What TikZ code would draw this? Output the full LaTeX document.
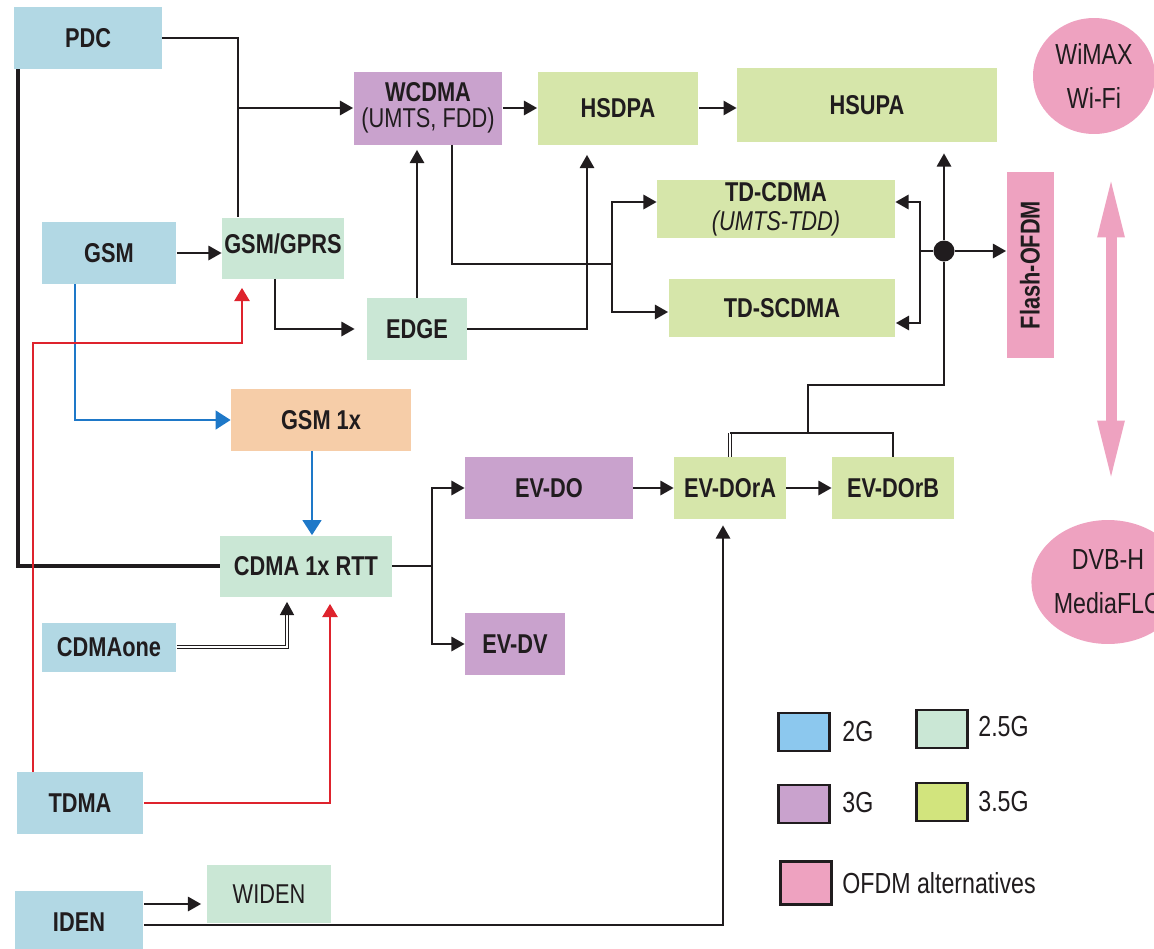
\documentclass[tikz,border=0pt]{standalone}
\usepackage{fontspec}
\setmainfont{Liberation Sans}[FakeStretch=0.8]
\usetikzlibrary{arrows.meta,calc,shapes.geometric}
\definecolor{ink}{RGB}{32,28,30}
\definecolor{blue2g}{RGB}{178,216,228}
\definecolor{mint}{RGB}{202,231,213}
\definecolor{lilac}{RGB}{201,162,205}
\definecolor{lime}{RGB}{214,230,170}
\definecolor{peach}{RGB}{246,205,168}
\definecolor{rose}{RGB}{238,162,192}
\definecolor{linkblue}{RGB}{30,120,200}
\definecolor{linkred}{RGB}{222,35,45}
\definecolor{keyblue}{RGB}{140,200,238}
\definecolor{keylime}{RGB}{210,228,125}
\begin{document}
\begin{tikzpicture}[
  x=0.02cm, y=-0.02cm,
  font=\fontsize{15.5}{16}\selectfont,
  box/.style={inner sep=0pt, align=center, text=ink, font=\fontsize{15.5}{14.5}\selectfont\bfseries},
  gen2/.style={box, fill=blue2g},
  gen25/.style={box, fill=mint},
  gen3/.style={box, fill=lilac},
  gen35/.style={box, fill=lime},
  genx/.style={box, fill=peach},
  ofdmbox/.style={box, fill=rose},
  ofdmcircle/.style={ellipse, fill=rose, inner sep=0pt, align=center, text=ink, font=\fontsize{16.5}{25}\selectfont},
  link/.style={draw=ink, line width=1.5pt},
  arr/.style={link, -{Triangle[length=7.5pt,width=8pt]}},
  dbl/.style={draw=ink, line width=0.7pt, double=white, double distance=1.2pt},
  bluearr/.style={draw=linkblue, line width=1.5pt, -{Triangle[length=8.5pt,width=10.5pt]}},
  redarr/.style={draw=linkred, line width=1.5pt, -{Triangle[length=7.5pt,width=8.5pt]}},
  key/.style={draw=ink, line width=1.2pt, minimum width=1.02cm, minimum height=0.76cm, inner sep=0pt},
  keylab/.style={anchor=west, text=ink, inner sep=0pt, font=\fontsize{16.5}{18}\selectfont}
]
\useasboundingbox (0,0) rectangle (1154,948);
\clip (0,0) rectangle (1154,948);

% 2G systems
\node[gen2, minimum width=2.96cm, minimum height=1.24cm] (PDC) at (88,38) {PDC};
\node[gen2, minimum width=2.70cm, minimum height=1.24cm] (GSM) at (109,253) {GSM};
\node[gen2, minimum width=2.70cm, minimum height=0.98cm] (CDMAone) at (109,647) {CDMAone};
\node[gen2, minimum width=2.54cm, minimum height=1.24cm] (TDMA) at (80,803) {TDMA};
\node[gen2, minimum width=2.58cm, minimum height=1.24cm] (IDEN) at (79,922) {IDEN};

% 2.5G systems
\node[gen25, minimum width=2.44cm, minimum height=1.22cm] (gprs) at (283,248) {\raisebox{5pt}{GSM/GPRS}};
\node[gen25, minimum width=2.00cm, minimum height=1.24cm] (EDGE) at (417,329) {EDGE};
\node[genx, minimum width=3.60cm, minimum height=1.24cm] (GSM1x) at (321,420) {GSM 1x};
\node[gen25, minimum width=3.44cm, minimum height=1.22cm] (CDMA) at (306,566) {CDMA 1x RTT};
\node[gen25, minimum width=2.50cm, minimum height=1.16cm, font=\fontsize{15.5}{14}\selectfont] (WIDEN) at (269,894) {WIDEN};

% 3G and 3.5G systems
\node[gen3, minimum width=2.98cm, minimum height=1.46cm] (WCDMA) at (428,108) {WCDMA\\\mdseries(UMTS, FDD)};
\node[gen35, minimum width=3.22cm, minimum height=1.46cm] (HSDPA) at (618,108) {HSDPA};
\node[gen35, minimum width=5.20cm, minimum height=1.48cm] (HSUPA) at (867,105) {HSUPA};
\node[gen35, minimum width=4.76cm, minimum height=1.16cm] (TDCDMA) at (776,209) {TD-CDMA\\[2pt]\mdseries\itshape(UMTS-TDD)};
\node[gen35, minimum width=4.54cm, minimum height=1.16cm] (TDSCDMA) at (782,308) {TD-SCDMA};
\node[gen3, minimum width=3.36cm, minimum height=1.24cm] (EVDO) at (549,488) {EV-DO};
\node[gen3, minimum width=2.00cm, minimum height=1.24cm] (EVDV) at (515,644) {EV-DV};
\node[gen35, minimum width=2.24cm, minimum height=1.24cm] (EVA) at (730,488) {EV-DOrA};
\node[gen35, minimum width=2.44cm, minimum height=1.24cm] (EVB) at (893,488) {EV-DOrB};

% OFDM alternatives
\node[ofdmbox, minimum width=0.94cm, minimum height=3.72cm] (Flash) at (1030,265) {\rotatebox{90}{Flash-OFDM}};
\node[ofdmcircle, minimum width=2.44cm, minimum height=2.32cm] (wimax) at (1094,76) {WiMAX\\Wi-Fi};
\node[ofdmcircle, minimum width=2.80cm, minimum height=2.48cm] (dvbh) at (1108,582) {DVB-H\\MediaFLO};
\node[circle, fill=ink, minimum size=0.42cm, inner sep=0pt] (hub) at (944,251) {};

% bend points
\coordinate (pdcX) at (238,0);
\coordinate (leftX) at (18,0);
\coordinate (blueX) at (75,0);
\coordinate (blueDown) at (312,0);
\coordinate (edgeX) at (275,0);
\coordinate (hsX) at (587,0);
\coordinate (wcX) at (452,0);
\coordinate (tdX) at (612,264);
\coordinate (hubL) at (920,251);
\coordinate (hubLow) at (944,385);
\coordinate (evTop) at (808,433);
\coordinate (evX) at (432,0);
\coordinate (oneX) at (287,0);
\coordinate (redX) at (33,0);
\coordinate (redTurn) at (242,343);
\coordinate (red2X) at (330,0);
\coordinate (evaX) at (723,0);
\coordinate (pinkX) at (1111,0);
\coordinate (idenTop) at ($(IDEN.east)+(0,-18)$);
\coordinate (idenLow) at ($(IDEN.east)+(0,3)$);

% black links
\draw[link] (PDC.east) -| (pdcX |- gprs.north);
\draw[arr] (pdcX |- WCDMA.west) -- (WCDMA.west);
\draw[draw=ink, line width=2.3pt] (leftX |- PDC.south) |- (CDMA.west);
\draw[arr] (GSM.east) -- (GSM.east -| gprs.west);
\draw[arr, shorten >=0.24cm] (edgeX |- gprs.south) |- (EDGE.west);
\draw[arr, shorten >=0.1cm] (EDGE.north) -- (EDGE.north |- WCDMA.south);
\draw[arr, shorten >=0.2cm] (EDGE.east) -| (hsX |- HSDPA.south);
\draw[arr] (WCDMA.east) -- (HSDPA.west);
\draw[arr] (HSDPA.east) -- (HSDPA.east -| HSUPA.west);
\draw[link] (wcX |- WCDMA.south) |- (tdX);
\draw[arr] (tdX) |- ($(TDCDMA.west)+(0,-7)$);
\draw[arr] (tdX) |- ($(TDSCDMA.west)+(0,4)$);

% hub
\draw[arr, shorten >=0.22cm] (hub) -- (hub |- HSUPA.south);
\draw[arr] (hub) -- (hub -| Flash.west);
\draw[link] (hub) -- (hubL);
\draw[arr] (hubL) |- ($(TDCDMA.east)+(0,-7)$);
\draw[arr] (hubL) |- ($(TDSCDMA.east)+(0,15)$);
\draw[link] (evTop) |- (hubLow) -- (hub);
\draw[dbl] (EVA.north) -- (EVA.north |- evTop);
\draw[link] (EVA.north |- evTop) -| (EVB.north);

% CDMA branch
\draw[arr] (EVDO.east) -- (EVA.west);
\draw[arr] (EVA.east) -- (EVB.west);
\draw[link] (CDMA.east) -- (evX |- CDMA.east);
\draw[arr] (evX |- CDMA.east) |- (EVDO.west);
\draw[arr] (evX |- CDMA.east) |- (EVDV.west);
\draw[dbl, -{Triangle[length=7.5pt,width=8pt]}, shorten >=0.1cm] (CDMAone.east) -| (oneX |- CDMA.south);

% blue and red links
\draw[bluearr] (blueX |- GSM.south) |- (GSM1x.west);
\draw[bluearr] (blueDown |- GSM1x.south) -- (blueDown |- CDMA.north);
\draw[redarr, shorten >=0.18cm] (redX |- TDMA.north) |- (redTurn) -- (redTurn |- gprs.south);
\draw[redarr, shorten >=0.14cm] (TDMA.east) -| (red2X |- CDMA.south);

% IDEN
\draw[arr, shorten >=0.1cm] (idenTop) -- (idenTop -| WIDEN.west);
\draw[arr, shorten >=0.12cm] (idenLow) -| (evaX |- EVA.south);

% OFDM double arrow
\draw[draw=rose, line width=0.22cm, {Triangle[length=1.24cm,width=0.48cm]}-{Triangle[length=1.24cm,width=0.48cm]}, shorten <=0.82cm, shorten >=0.74cm] (pinkX |- wimax.south) -- (pinkX |- dvbh.north);

% legend
\node[key, fill=keyblue] (k2) at (804,732) {};
\node[keylab] (k2lab) at (842,732) {2G};
\node[key, fill=mint] (k25) at (942,729) {};
\node[keylab] (k25lab) at (978,727) {2.5G};
\node[key, fill=lilac] (k3) at (804,804) {};
\node[keylab] (k3lab) at (842,803) {3G};
\node[key, fill=keylime] (k35) at (942,802) {};
\node[keylab] (k35lab) at (978,802) {3.5G};
\node[key, fill=rose, minimum height=0.86cm] (kofdm) at (806,883) {};
\node[keylab] (kofdmlab) at (842,883) {OFDM alternatives};
\end{tikzpicture}
\end{document}
